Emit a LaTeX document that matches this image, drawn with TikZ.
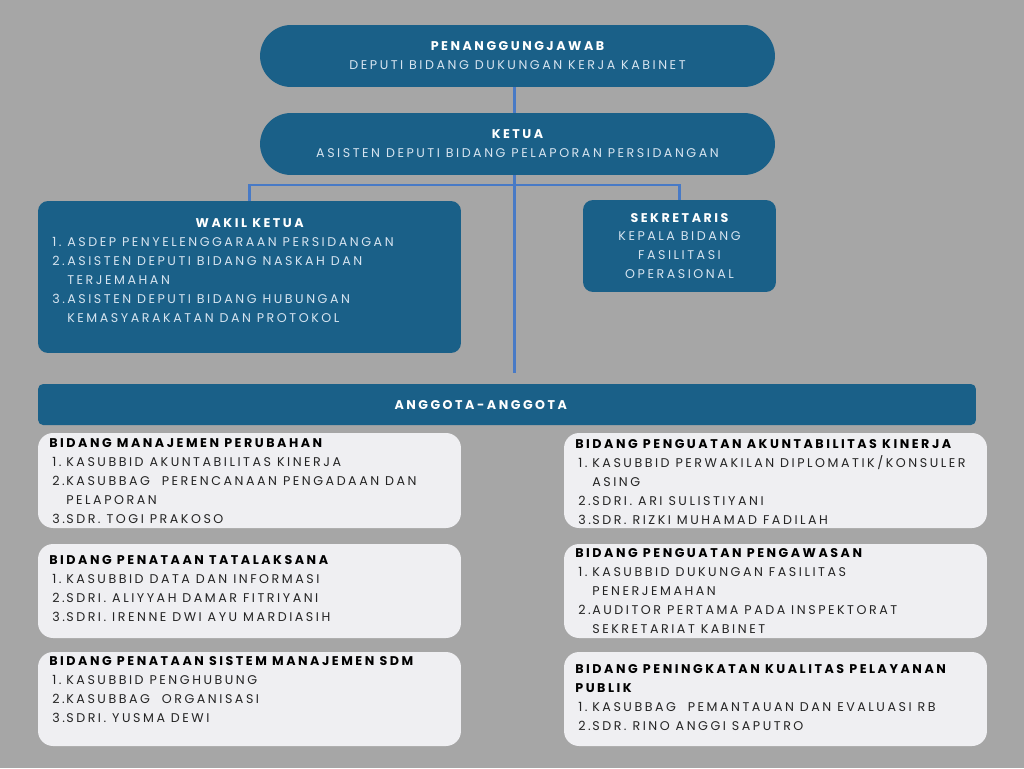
\documentclass[tikz,border=0pt]{standalone}
\usepackage{fontspec}
\setmainfont{Poppins}
\newfontfamily\spaced[LetterSpace=20]{Poppins}
\definecolor{bggray}{RGB}{166,166,166}
\definecolor{navy}{RGB}{26,96,136}
\definecolor{linkblue}{RGB}{72,122,198}
\definecolor{paleg}{RGB}{239,239,242}
\definecolor{paleblue}{RGB}{214,228,240}
\definecolor{ink}{RGB}{36,36,36}
\tikzset{
  darkbox/.style={fill=navy, rounded corners=0.2cm, inner sep=0pt},
  lightbox/.style={fill=paleg, rounded corners=0.3cm, inner sep=0pt, minimum width=8.46cm},
  pill/.style={darkbox, rounded corners=0.62cm, minimum width=10.3cm, minimum height=1.24cm},
  link/.style={draw=linkblue, line width=1.3pt},
  lbl/.style={inner sep=0pt, anchor=base west},
}
\newcommand\listhead[1]{\multicolumn{2}{@{}l@{}}{\textbf{\color{black}#1}}}
\begin{document}
\begin{tikzpicture}[x=0.02cm, y=-0.02cm, font=\fontsize{7.2pt}{10.8pt}\spaced]
\fill[bggray] (0,0) rectangle (1024,768);
\useasboundingbox (0,0) rectangle (1024,768);
% pimpinan
\node[pill, text=paleblue, align=center] (pj) at (517.5,56) {\textbf{\color{white}PENANGGUNGJAWAB}\\DEPUTI BIDANG DUKUNGAN KERJA KABINET};
\node[pill, text=paleblue, align=center] (ketua) at (517.5,144) {\textbf{\color{white}KETUA}\\ASISTEN DEPUTI BIDANG PELAPORAN PERSIDANGAN};
\node[darkbox, minimum width=8.46cm, minimum height=3.04cm] (wakil) at (249.5,277) {};
\node[inner sep=0pt, anchor=base, text=white] (wakil-t) at (251,227.5) {\textbf{WAKIL KETUA}};
\node[lbl, text=paleblue] (wakil-l) at (52,246.5) {\begin{tabular}[t]{@{}p{0.3cm}@{}l@{}}
1. & ASDEP PENYELENGGARAAN PERSIDANGAN\\
2. & ASISTEN DEPUTI BIDANG NASKAH DAN\\
   & TERJEMAHAN\\
3. & ASISTEN DEPUTI BIDANG HUBUNGAN\\
   & KEMASYARAKATAN DAN PROTOKOL
\end{tabular}};
\node[darkbox, minimum width=3.86cm, minimum height=1.84cm, text=paleblue, align=center] (sek) at (679.5,246) {\textbf{\color{white}SEKRETARIS}\\KEPALA BIDANG\\FASILITASI\\OPERASIONAL};
\coordinate (drop) at (514.5,373);
\draw[link] (pj.south -| drop) -- (ketua.north -| drop);
\draw[link] (ketua.south -| drop) -- (drop);
\draw[link] (wakil.north) -- ++(0,-16) -| (sek.north);
% anggota
\node[darkbox, rounded corners=0.1cm, minimum width=18.76cm, minimum height=0.82cm] (anggota) at (507,404.5) {};
\node[inner sep=0pt, anchor=base, text=white] (anggota-t) at (482,409.5) {\textbf{ANGGOTA-ANGGOTA}};
\node[lightbox, minimum height=1.9cm] (bmp) at (249.5,480.5) {};
\node[lightbox, minimum height=1.88cm] (bpt) at (249.5,591) {};
\node[lightbox, minimum height=1.88cm] (bsdm) at (249.5,699) {};
\node[lightbox, minimum height=1.9cm] (bpak) at (775.5,480.5) {};
\node[lightbox, minimum height=1.88cm] (bpp) at (775.5,591) {};
\node[lightbox, minimum height=1.88cm] (bpkp) at (775.5,699) {};
\node[lbl, text=ink] (bmp-l) at (49,447.5) {\begin{tabular}[t]{@{\hspace{0.06cm}}p{0.28cm}@{}l@{}}
\listhead{BIDANG MANAJEMEN PERUBAHAN}\\
1. & KASUBBID AKUNTABILITAS KINERJA\\
2. & KASUBBAG~~PERENCANAAN PENGADAAN DAN\\
   & PELAPORAN\\
3. & SDR. TOGI PRAKOSO
\end{tabular}};
\node[lbl, text=ink] (bpt-l) at (49,564.5) {\begin{tabular}[t]{@{\hspace{0.06cm}}p{0.28cm}@{}l@{}}
\listhead{BIDANG PENATAAN TATALAKSANA}\\
1. & KASUBBID DATA DAN INFORMASI\\
2. & SDRI. ALIYYAH DAMAR FITRIYANI\\
3. & SDRI. IRENNE DWI AYU MARDIASIH
\end{tabular}};
\node[lbl, text=ink] (bsdm-l) at (49,665.5) {\begin{tabular}[t]{@{\hspace{0.06cm}}p{0.28cm}@{}l@{}}
\listhead{BIDANG PENATAAN SISTEM MANAJEMEN SDM}\\
1. & KASUBBID PENGHUBUNG\\
2. & KASUBBAG~~ORGANISASI\\
3. & SDRI. YUSMA DEWI
\end{tabular}};
\node[lbl, text=ink] (bpak-l) at (575,448.5) {\begin{tabular}[t]{@{\hspace{0.06cm}}p{0.28cm}@{}l@{}}
\listhead{BIDANG PENGUATAN AKUNTABILITAS KINERJA}\\
1. & KASUBBID PERWAKILAN DIPLOMATIK/KONSULER\\
   & ASING\\
2. & SDRI. ARI SULISTIYANI\\
3. & SDR. RIZKI MUHAMAD FADILAH
\end{tabular}};
\node[lbl, text=ink] (bpp-l) at (575,557.5) {\begin{tabular}[t]{@{\hspace{0.06cm}}p{0.28cm}@{}l@{}}
\listhead{BIDANG PENGUATAN PENGAWASAN}\\
1. & KASUBBID DUKUNGAN FASILITAS\\
   & PENERJEMAHAN\\
2. & AUDITOR PERTAMA PADA INSPEKTORAT\\
   & SEKRETARIAT KABINET
\end{tabular}};
\node[lbl, text=ink] (bpkp-l) at (575,673.5) {\begin{tabular}[t]{@{\hspace{0.06cm}}p{0.28cm}@{}l@{}}
\listhead{BIDANG PENINGKATAN KUALITAS PELAYANAN}\\
\listhead{PUBLIK}\\
1. & KASUBBAG~~PEMANTAUAN DAN EVALUASI RB\\
2. & SDR. RINO ANGGI SAPUTRO
\end{tabular}};
\end{tikzpicture}
\end{document}
